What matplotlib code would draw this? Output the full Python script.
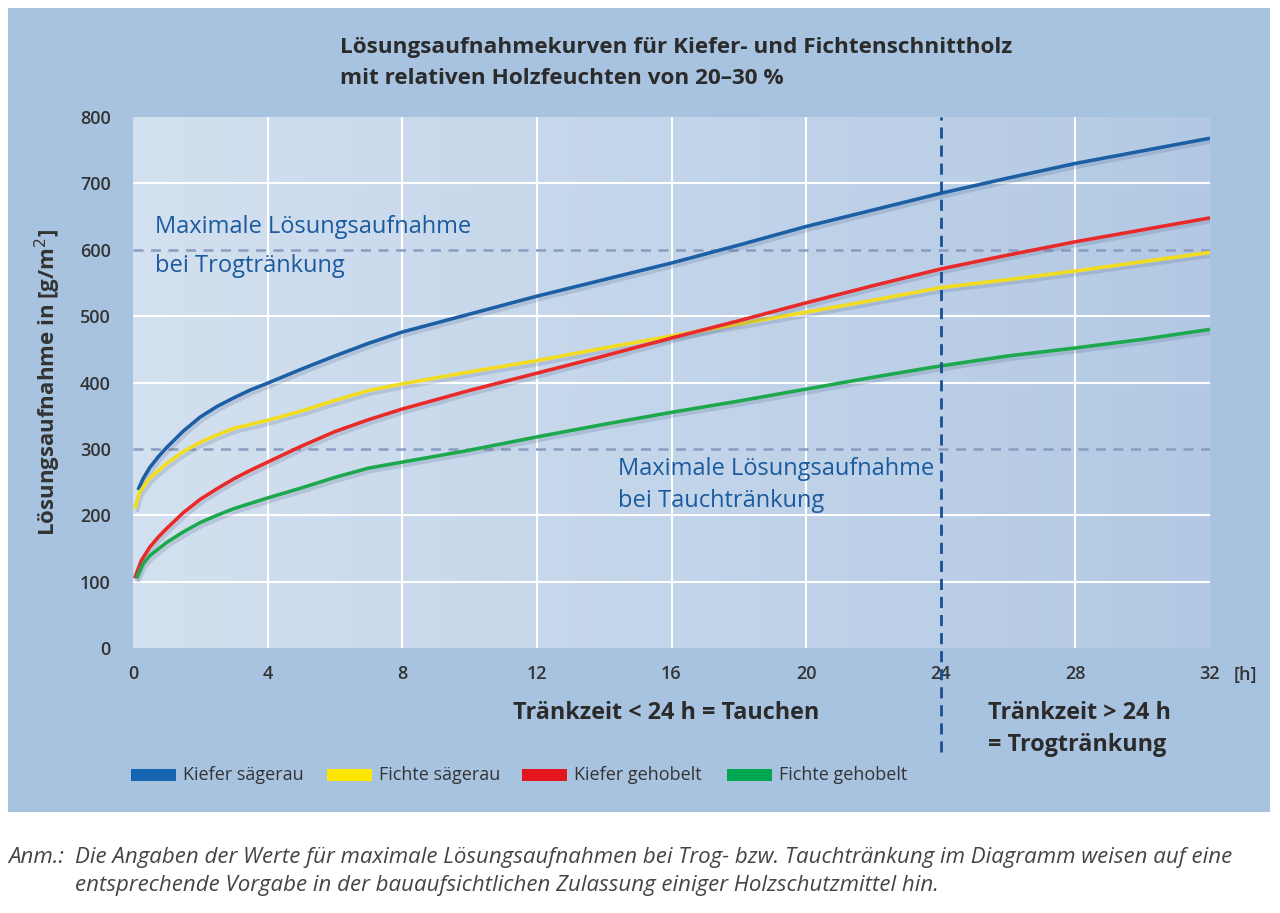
import numpy as np
import matplotlib
matplotlib.use('Agg')
import matplotlib.pyplot as plt
import matplotlib.patheffects as pe
from matplotlib.patches import Rectangle
from matplotlib.lines import Line2D
from matplotlib.colors import LinearSegmentedColormap

plt.rcParams['font.family'] = ['Open Sans', 'DejaVu Sans']

# Tränkzeit [h] und Lösungsaufnahme [g/m²]
kiefer_saege_t = [0.15, 0.3, 0.5, 0.75, 1, 1.5, 2, 2.5, 3, 3.5, 4, 5, 6, 7, 8, 10, 12, 14, 16, 18, 20, 22, 24, 26, 28, 30, 32]
kiefer_saege_v = [238, 255, 272, 288, 302, 327, 348, 364, 377, 389, 399, 420, 440, 459, 476, 503, 530, 555, 580, 607, 635, 660, 685, 708, 730, 749, 768]

fichte_saege_t = [0.05, 0.2, 0.5, 1, 1.5, 2, 2.5, 3, 4, 5, 6, 7, 8, 10, 12, 14, 16, 18, 20, 22, 24, 26, 28, 30, 32]
fichte_saege_v = [210, 235, 256, 278, 296, 310, 321, 331, 343, 357, 373, 388, 398, 416, 433, 452, 470, 488, 506, 524, 543, 555, 568, 582, 596]

kiefer_hob_t = [0.05, 0.25, 0.5, 0.75, 1, 1.5, 2, 2.5, 3, 3.5, 4, 5, 6, 7, 8, 10, 12, 14, 16, 18, 20, 22, 24, 26, 28, 30, 32]
kiefer_hob_v = [105, 132, 152, 167, 180, 204, 224, 240, 255, 268, 280, 304, 326, 344, 360, 388, 414, 440, 467, 493, 520, 546, 571, 592, 612, 630, 648]

fichte_hob_t = [0.1, 0.3, 0.5, 1, 1.5, 2, 2.5, 3, 4, 5, 6, 7, 8, 10, 12, 14, 16, 18, 20, 22, 24, 26, 28, 30, 32]
fichte_hob_v = [105, 127, 139, 159, 175, 189, 200, 210, 226, 241, 257, 271, 280, 298, 318, 337, 355, 372, 390, 408, 425, 440, 452, 465, 480]

series = [
    ('Kiefer sägerau', kiefer_saege_t, kiefer_saege_v, '#1c5fa5', '#1565b0'),
    ('Fichte sägerau', fichte_saege_t, fichte_saege_v, '#f2dc1f', '#ffe600'),
    ('Kiefer gehobelt', kiefer_hob_t, kiefer_hob_v, '#e82a2a', '#e3161f'),
    ('Fichte gehobelt', fichte_hob_t, fichte_hob_v, '#1ea84e', '#00a650'),
]

x_ticks = [0, 4, 8, 12, 16, 20, 24, 28, 32]
y_ticks = [0, 100, 200, 300, 400, 500, 600, 700, 800]
max_trog = 600
max_tauch = 300
grenze = 24

fig = plt.figure(figsize=(12.8, 9.13), dpi=100)
fig.patch.set_facecolor('white')
fig.patches.append(Rectangle((8/1280, 1-812/913), 1262/1280, 804/913,
                             transform=fig.transFigure, facecolor='#a8c3e0',
                             edgecolor='none', zorder=-10))

ax = fig.add_axes([133/1280, 1-648/913, 1077/1280, 531/913])
ax.set_xlim(0, 32)
ax.set_ylim(0, 800)
ax.patch.set_alpha(0)

# heller Verlauf im Diagrammfeld
grad = np.linspace(0, 1, 256).reshape(1, -1)
cm = LinearSegmentedColormap.from_list('bg', ['#d3e0ef', '#c3d5ea', '#b3c9e3'])
ax.imshow(grad, extent=[0, 32, 0, 800], aspect='auto', cmap=cm, zorder=0)

for s in ax.spines.values():
    s.set_visible(False)

for x in x_ticks[1:-1]:
    if x != grenze:
        ax.axvline(x, color='white', lw=1.5, zorder=1)
for y in y_ticks[1:-1]:
    if y not in (max_trog, max_tauch):
        ax.axhline(y, color='white', lw=1.5, zorder=1)
for y in (max_trog, max_tauch):
    ax.axhline(y, color='#8a9cc0', lw=1.8, ls=(0, (4, 3)), zorder=1)

for name, t, v, c, lc in series:
    ax.plot(t, v, color=c, lw=2.6, zorder=3, solid_capstyle='butt', solid_joinstyle='round',
            path_effects=[pe.SimpleLineShadow(offset=(1.5, -2.5), shadow_color='#4a5f85', alpha=0.2),
                          pe.Normal()])

ax.add_line(Line2D([grenze, grenze], [-157, 800], color='#1a4f93', lw=2,
                   ls=(0, (4, 2.5)), clip_on=False, zorder=4))

ax.set_xticks(x_ticks)
ax.set_yticks(y_ticks)
ax.tick_params(length=0, labelsize=13, colors='#333333', pad=12)
ax.tick_params(axis='y', pad=16)
for lab in ax.get_xticklabels() + ax.get_yticklabels():
    lab.set_fontweight('semibold')
ax.text(32.7, -40, '[h]', fontsize=13, fontweight='semibold', color='#333333', va='center', ha='left')
ax.set_ylabel('Lösungsaufnahme in [g/m$^2$]', fontsize=16, fontweight='bold',
              color='#333333', labelpad=12)

txt_blue = '#1a5a9e'
ax.text(0.65, 635, 'Maximale Lösungsaufnahme', fontsize=17, color=txt_blue, va='center')
ax.text(0.65, 575, 'bei Trogtränkung', fontsize=17, color=txt_blue, va='center')
ax.text(14.4, 270, 'Maximale Lösungsaufnahme', fontsize=17, color=txt_blue, va='center')
ax.text(14.4, 222, 'bei Tauchtränkung', fontsize=17, color=txt_blue, va='center')

dark = '#2b2b2b'
fig.text(340/1280, 1-47/913, 'Lösungsaufnahmekurven für Kiefer- und Fichtenschnittholz',
         fontsize=16.2, fontweight='bold', color=dark, va='center')
fig.text(340/1280, 1-78/913, 'mit relativen Holzfeuchten von 20–30 %',
         fontsize=16.2, fontweight='bold', color=dark, va='center')

fig.text(513/1280, 1-713/913, 'Tränkzeit < 24 h = Tauchen', fontsize=16.8,
         fontweight='bold', color=dark, va='center')
fig.text(988/1280, 1-713/913, 'Tränkzeit > 24 h', fontsize=16.8,
         fontweight='bold', color=dark, va='center')
fig.text(988/1280, 1-745/913, '= Trogtränkung', fontsize=16.8,
         fontweight='bold', color=dark, va='center')

# Legende
leg_x = [131, 327, 522, 727]
for (name, t, v, c, lc), lx in zip(series, leg_x):
    fig.patches.append(Rectangle((lx/1280, 1-781/913), 45/1280, 12/913,
                                 transform=fig.transFigure, facecolor=lc,
                                 edgecolor='none'))
    fig.text((lx+52)/1280, 1-775/913, name, fontsize=13, color='#333333', va='center')

cap = '#444444'
fig.text(8/1280, 1-857/913, 'Anm.:', fontsize=16, style='italic', color=cap, va='center')
fig.text(75/1280, 1-857/913,
         'Die Angaben der Werte für maximale Lösungsaufnahmen bei Trog- bzw. Tauchtränkung im Diagramm weisen auf eine',
         fontsize=16, style='italic', color=cap, va='center')
fig.text(75/1280, 1-885/913,
         'entsprechende Vorgabe in der bauaufsichtlichen Zulassung einiger Holzschutzmittel hin.',
         fontsize=16, style='italic', color=cap, va='center')

fig.savefig('out.png', dpi=100)
